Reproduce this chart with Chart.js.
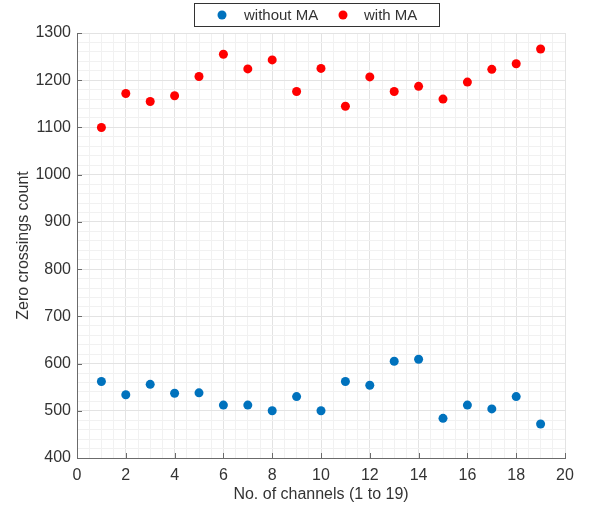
<!DOCTYPE html>
<html>
<head>
<meta charset="utf-8">
<script src="https://cdn.jsdelivr.net/npm/chart.js@4/dist/chart.umd.min.js"></script>
<style>
html,body{margin:0;padding:0;background:#fff;}
#wrap{width:603px;height:510px;}
</style>
</head>
<body>
<div id="wrap"><canvas id="c" width="603" height="510"></canvas></div>
<script>
const channels = [1,2,3,4,5,6,7,8,9,10,11,12,13,14,15,16,17,18,19];
const withoutMA = [562,534,556,537,538,512,512,500,530,500,562,554,605,609,484,512,504,530,472];
const withMA = [1100,1172,1155,1167,1208,1255,1224,1243,1176,1225,1145,1207,1176,1187,1160,1196,1223,1235,1266];
const seriesNames = ['without MA','with MA'];
const seriesColors = ['#0072BD','#FF0000'];
const xTitle = 'No. of channels (1 to 19)';
const yTitle = 'Zero crossings count';

const FONT = '"Liberation Sans", Arial, Helvetica, sans-serif';
const TXT = '#333333';
const AXIS = '#6b6b6b';

function pts(ys){ return channels.map((x,i)=>({x:x,y:ys[i]})); }

const decor = {
  id:'decor',
  afterDraw(chart){
    const ctx = chart.ctx;
    const xs = chart.scales.x, ys = chart.scales.y;
    const a = chart.chartArea;
    ctx.save();
    ctx.strokeStyle = AXIS;
    ctx.lineWidth = 1;
    ctx.beginPath();
    for (let v=0; v<=20; v+=2){
      const px = Math.round(xs.getPixelForValue(v))+0.5;
      ctx.moveTo(px, a.bottom); ctx.lineTo(px, a.bottom-5);
    }
    for (let v=400; v<=1300; v+=100){
      const py = Math.round(ys.getPixelForValue(v))+0.5;
      ctx.moveTo(a.left, py); ctx.lineTo(a.left+5, py);
    }
    ctx.stroke();
    // legend
    const bx=194, by=3, bw=245, bh=23;
    ctx.fillStyle='#fff';
    ctx.fillRect(bx,by,bw,bh);
    ctx.strokeStyle='#333';
    ctx.strokeRect(bx+0.5,by+0.5,bw,bh);
    const items=[{dx:222,tx:244},{dx:343,tx:364}];
    ctx.font = '15px '+FONT;
    ctx.textBaseline='middle';
    chart.data.datasets.forEach((ds,i)=>{
      const it=items[i];
      ctx.fillStyle=ds.backgroundColor;
      ctx.beginPath(); ctx.arc(it.dx, by+bh/2+0.5, 4.5, 0, Math.PI*2); ctx.fill();
      ctx.fillStyle=TXT;
      ctx.fillText(ds.label, it.tx, by+bh/2+1);
    });
    ctx.restore();
  }
};

new Chart(document.getElementById('c'), {
  type:'scatter',
  data:{
    datasets:[
      {label:seriesNames[0], data:pts(withoutMA), backgroundColor:seriesColors[0], borderColor:seriesColors[0], pointRadius:4.5, pointHoverRadius:4.5, borderWidth:0},
      {label:seriesNames[1], data:pts(withMA), backgroundColor:seriesColors[1], borderColor:seriesColors[1], pointRadius:4.5, pointHoverRadius:4.5, borderWidth:0}
    ]
  },
  options:{
    responsive:false,
    animation:false,
    devicePixelRatio:1,
    layout:{padding:{top:33,right:38,left:0,bottom:0}},
    plugins:{legend:{display:false}, tooltip:{enabled:false}},
    scales:{
      x:{
        type:'linear', min:0, max:20,
        afterFit(s){ s.height = 52; },
        ticks:{stepSize:0.5, autoSkip:false, maxRotation:0, padding:8, color:TXT, font:{family:FONT,size:16},
          callback:(v)=> (Math.abs(v%2)<1e-9 ? String(v) : '')},
        grid:{drawTicks:false, lineWidth:1,
          color:(c)=> (c.tick && Math.abs(c.tick.value%2)<1e-9 ? '#e3e3e3' : '#f1f1f1')},
        border:{display:true, color:AXIS, width:1},
        title:{display:true, text:xTitle, color:TXT, font:{family:FONT,size:16}, padding:{top:0,bottom:6}}
      },
      y:{
        type:'linear', min:400, max:1300,
        afterFit(s){ s.width = 77; },
        ticks:{stepSize:20, autoSkip:false, padding:6, color:TXT, font:{family:FONT,size:16},
          callback:(v)=> (Math.abs(v%100)<1e-9 ? String(v) : '')},
        grid:{drawTicks:false, lineWidth:1,
          color:(c)=> (c.tick && Math.abs(c.tick.value%100)<1e-9 ? '#e3e3e3' : '#f1f1f1')},
        border:{display:true, color:AXIS, width:1},
        title:{display:true, text:yTitle, color:TXT, font:{family:FONT,size:16}, padding:{top:14,bottom:0}}
      }
    }
  },
  plugins:[decor]
});
</script>
</body>
</html>
